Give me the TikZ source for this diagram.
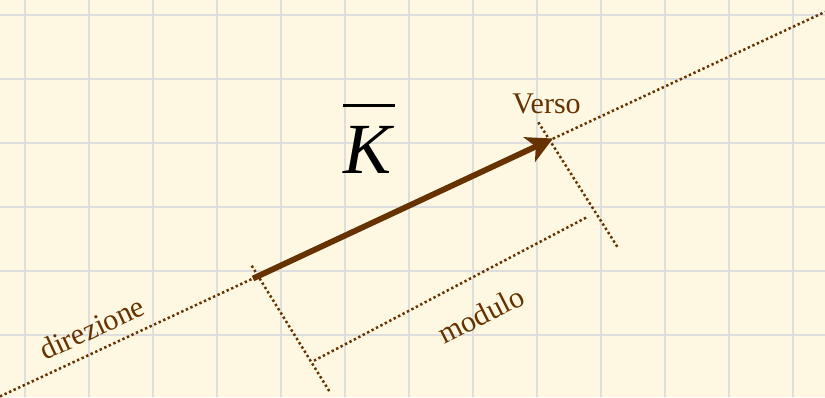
\documentclass[tikz,border=0pt]{standalone}
\usepackage{fontspec}
\setmainfont{Liberation Serif}
\usetikzlibrary{arrows.meta}
\definecolor{bg}{RGB}{254,248,227}
\definecolor{gridc}{RGB}{222,222,222}
\definecolor{brn}{RGB}{102,51,0}
\begin{document}
\begin{tikzpicture}[x=0.5pt,y=-0.5pt,
  gridline/.style={gridc, line width=1.35pt},
  dotline/.style={brn, line width=1.25pt, dash pattern=on 1.2pt off 1.3pt},
  lbl/.style={text=brn, font=\fontsize{15}{16}\selectfont, inner sep=0pt},
  vec/.style={brn, line width=2.9pt, -{Stealth[length=13pt,width=13.5pt,inset=3.5pt]}}]
\fill[bg] (0,0) rectangle (825,397);
\useasboundingbox (0,0) rectangle (825,397);
\begin{scope}
\clip (0,0) rectangle (825,397);
\foreach \x in {25,89,...,825} \draw[gridline] (\x,0) -- (\x,397);
\foreach \y in {15,79,...,397} \draw[gridline] (0,\y) -- (825,\y);
% points
\coordinate (D1) at (0,396.4);
\coordinate (D2) at (825,11.9);
\coordinate (S) at (253,278.5);
\coordinate (T) at (553,138.5);
\coordinate (TA1) at (251.7,265.7);
\coordinate (TA2) at (330,392.3);
\coordinate (TB1) at (538.3,122.3);
\coordinate (TB2) at (618.3,248.3);
\coordinate (M1) at (314,360.7);
\coordinate (M2) at (586.7,217.3);
% direction line
\draw[dotline] (D1) -- (D2);
% ticks
\draw[dotline] (TA1) -- (TA2);
\draw[dotline] (TB1) -- (TB2);
% modulo line
\draw[dotline] (M1) -- (M2);
% vector
\draw[vec] (S) -- (T);
% labels
\node[lbl] (verso) at (546.5,104) {Verso};
\node[lbl, rotate=25] (dir) at (92,328) {direzione};
\node[lbl, rotate=27] (mod) at (481,315) {modulo};
\node[inner sep=0pt, font=\fontsize{36}{40}\selectfont\itshape] (K) at (368,150) {K};
\coordinate (B1) at (343,105.7);
\coordinate (B2) at (395,105.7);
\draw[black, line width=1.5pt] (B1) -- (B2);
\end{scope}
\end{tikzpicture}
\end{document}
